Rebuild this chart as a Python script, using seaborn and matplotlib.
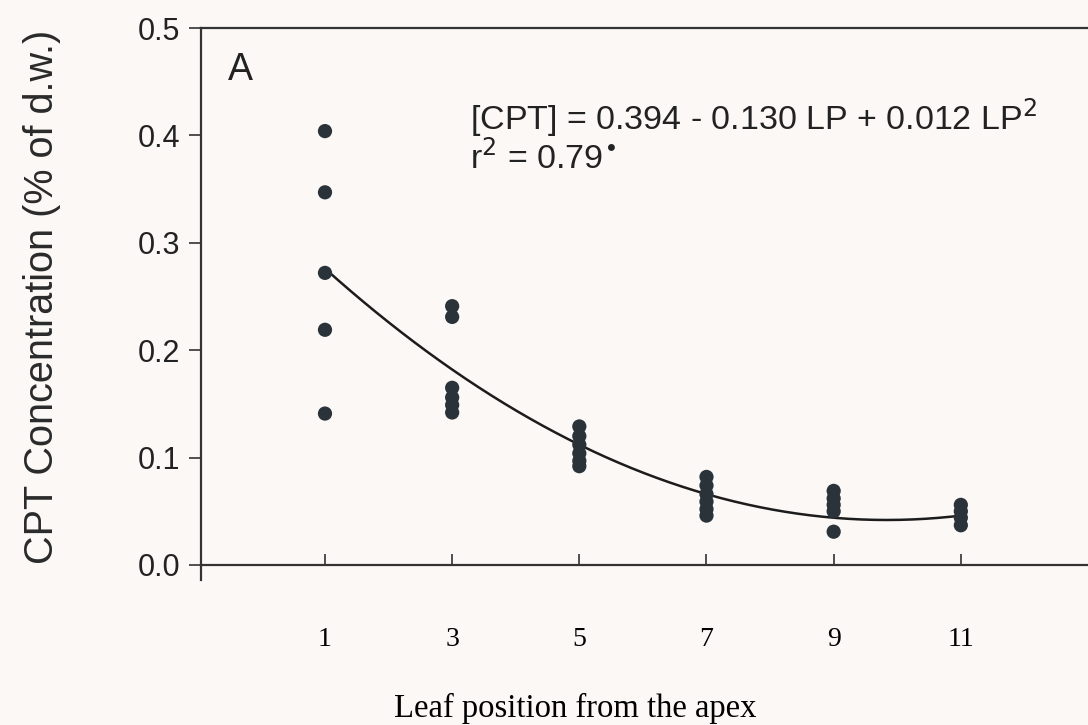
import numpy as np
import pandas as pd
import matplotlib
matplotlib.use("Agg")
import matplotlib.pyplot as plt
import seaborn as sns

# ---- data ----
leaf_pos = [1]*5 + [3]*6 + [5]*6 + [7]*6 + [9]*5 + [11]*4
cpt = [0.404, 0.347, 0.272, 0.219, 0.141,
       0.241, 0.231, 0.165, 0.156, 0.149, 0.142,
       0.129, 0.120, 0.112, 0.104, 0.097, 0.092,
       0.082, 0.074, 0.066, 0.059, 0.052, 0.046,
       0.069, 0.062, 0.056, 0.050, 0.031,
       0.056, 0.050, 0.044, 0.037]
# fitted quadratic as printed on the chart (LP = leaf index 1..6)
coef = [0.394, -0.130, 0.012]
xticks = [1, 3, 5, 7, 9, 11]
yticks = [0.0, 0.1, 0.2, 0.3, 0.4, 0.5]

df = pd.DataFrame({"pos": leaf_pos, "cpt": cpt})
xf = np.linspace(1, 11, 200)
lp = (xf + 1) / 2
fit = pd.DataFrame({"pos": xf, "cpt": coef[0] + coef[1]*lp + coef[2]*lp**2})

sns.set_theme(style="ticks")
plt.rcParams["font.family"] = ["Liberation Sans", "DejaVu Sans"]
bg = "#fbf8f5"
fig = plt.figure(figsize=(10.88, 7.25), dpi=100, facecolor=bg)
ax = fig.add_axes([201/1088, 1-565/725, 887/1088, 537/725])
ax.set_facecolor(bg)

sns.lineplot(data=fit, x="pos", y="cpt", ax=ax, color="#1c1c1c", lw=1.8)
sns.scatterplot(data=df, x="pos", y="cpt", ax=ax, color="#2b333a",
                s=105, edgecolor="none", zorder=3)

ax.set_xlim(-0.95, 13.0)
ax.set_ylim(0, 0.5)
ax.set_xticks(xticks)
ax.set_xticklabels([str(t) for t in xticks], family="Liberation Serif", fontsize=20)
ax.set_yticks(yticks)
ax.set_yticklabels([f"{t:.1f}" for t in yticks], fontsize=22)
ax.tick_params(axis="x", direction="in", length=8, width=1.2, pad=45, colors="#333333")
ax.tick_params(axis="x", labelcolor="black")
ax.tick_params(axis="y", direction="out", length=9, width=1.2, pad=6, colors="#333333")
ax.tick_params(axis="y", labelcolor="#222222")

for s in ["left", "bottom", "top"]:
    ax.spines[s].set_color("#333333")
    ax.spines[s].set_linewidth(1.6)
ax.spines["right"].set_visible(False)
ax.spines["left"].set_bounds(-0.014, 0.5)

ax.set_ylabel("CPT Concentration (% of d.w.)", fontsize=28.5, color="#2a2a2a")
ax.yaxis.set_label_coords(-0.158, 0.5)
ax.set_xlabel("Leaf position from the apex", family="Liberation Serif", fontsize=23.5, color="black")
ax.xaxis.set_label_coords(0.4217, -0.238)

ax.text(0.030, 0.922, "A", transform=ax.transAxes, fontsize=27, va="center", ha="left", color="#222222")
ax.text(0.303, 0.834, "[CPT] = 0.394 - 0.130 LP + 0.012 LP$^2$", transform=ax.transAxes,
        fontsize=24.5, va="center", ha="left", color="#222222")
ax.text(0.303, 0.758, "r$^2$ = 0.79$^{\\bullet}$", transform=ax.transAxes,
        fontsize=24.5, va="center", ha="left", color="#222222")

fig.savefig("out.png", dpi=100, facecolor=bg)
